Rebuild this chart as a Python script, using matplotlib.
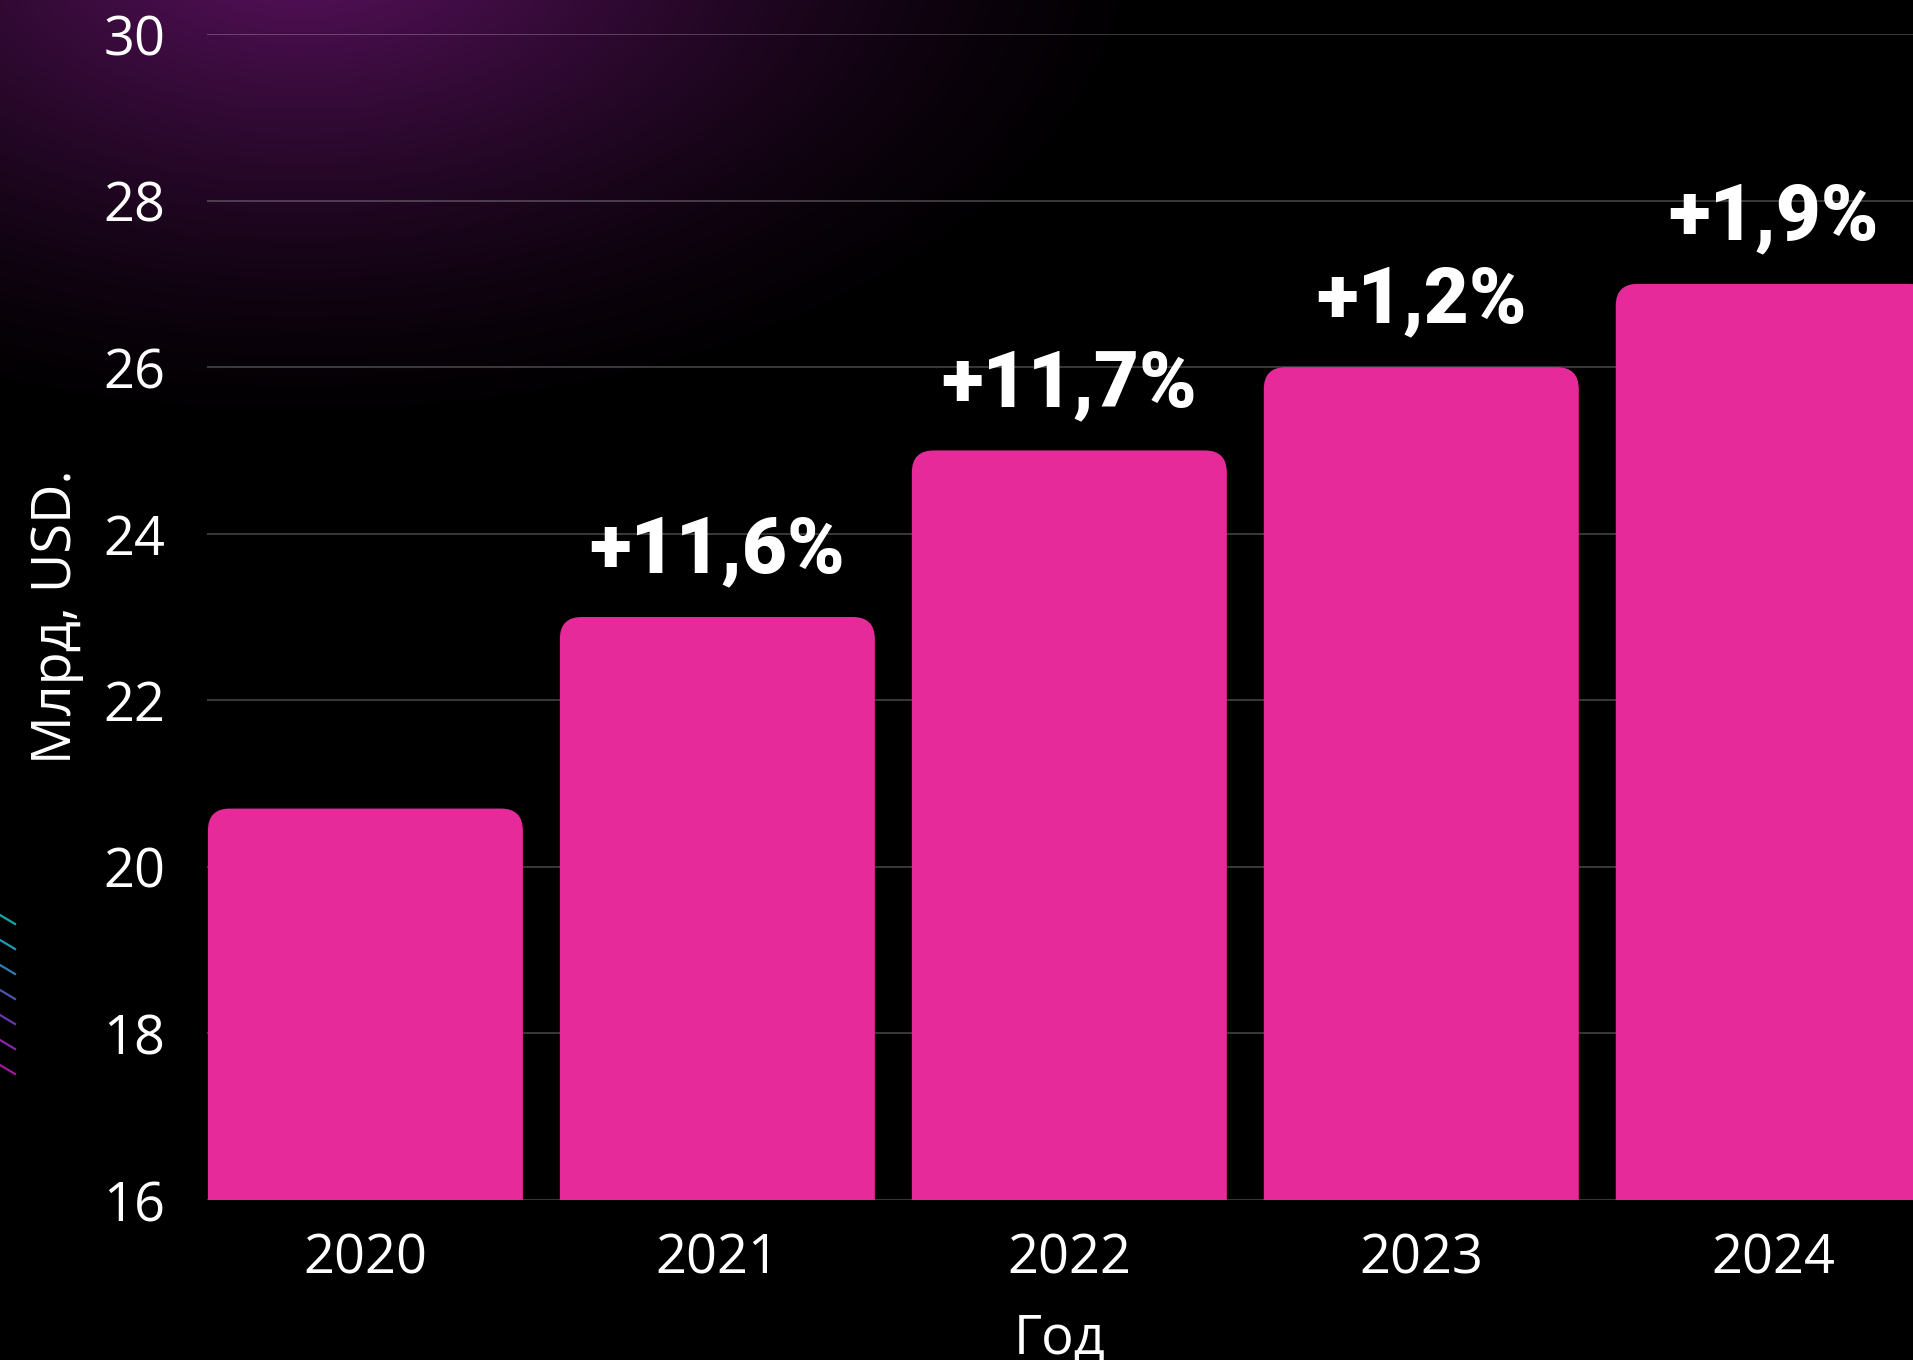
import numpy as np
import matplotlib

matplotlib.use("Agg")
import matplotlib.pyplot as plt
from matplotlib.lines import Line2D
from matplotlib.patches import FancyBboxPatch

# market size by year, billions USD
years = ["2020", "2021", "2022", "2023", "2024"]
values = [20.7, 23.0, 25.0, 26.0, 27.0]
growth = [None, 11.6, 11.7, 1.2, 1.9]
y_ticks = [16, 18, 20, 22, 24, 26, 28, 30]

BAR_COLOR = "#E62A99"
TEXT_COLOR = "white"
W, H, DPI = 1913, 1360, 100

plt.rcParams["font.family"] = ["Open Sans", "DejaVu Sans"]

fig = plt.figure(figsize=(W / DPI, H / DPI), dpi=DPI, facecolor="black")

# purple glow in the upper left corner
bg = fig.add_axes([0, 0, 1, 1], zorder=-10)
bg.set_axis_off()
yy, xx = np.mgrid[0:H, 0:W]
d = np.sqrt(((xx - 300) / 880.0) ** 2 + ((yy + 60) / 500.0) ** 2)
glow = np.clip(1 - d, 0, 1) ** 1.4
rgb = np.zeros((H, W, 3))
rgb[..., 0] = 0.36 * glow
rgb[..., 1] = 0.07 * glow
rgb[..., 2] = 0.38 * glow
bg.imshow(rgb, extent=[0, 1, 0, 1], aspect="auto", interpolation="bilinear")

# small diagonal strokes on the left edge
stroke_colors = ["#16a9a6", "#1d9bb0", "#2f7cb4", "#4b56ad", "#6a36ad", "#8827a8", "#a3179f"]
for i, c in enumerate(stroke_colors):
    y0 = 915 + i * 25
    fig.add_artist(Line2D([0, 15 / W], [1 - y0 / H, 1 - (y0 + 9) / H],
                          color=c, lw=1.6, transform=fig.transFigure))

ax = fig.add_axes([207 / W, 1 - 1200 / H, 1 - 207 / W, (1200 - 34) / H])
ax.set_facecolor("none")
x = np.arange(len(years))
ax.set_xlim(-0.45, 4.397)
ax.set_ylim(16, 30)

# bars with rounded top corners; the bottom is pushed below the axis and clipped
bar_w = 0.895
px_x = 352.0
px_y = (1200 - 34) / 14.0
r = 22 / px_x
for xi, v in zip(x, values):
    p = FancyBboxPatch((xi - bar_w / 2, 14), bar_w, v - 14,
                       boxstyle=f"round,pad=0,rounding_size={r}",
                       mutation_aspect=px_x / px_y,
                       facecolor=BAR_COLOR, edgecolor="none", zorder=3)
    ax.add_patch(p)

for xi, v, g in zip(x, values, growth):
    if g is None:
        continue
    ax.annotate(f"+{g:.1f}%".replace(".", ","), (xi, v), xytext=(0, 32),
                textcoords="offset points", ha="center", va="baseline",
                fontsize=56, fontweight=900, family=["Roboto", "DejaVu Sans"],
                color=TEXT_COLOR, zorder=4)

ax.set_yticks(y_ticks)
ax.set_xticks(x)
ax.set_xticklabels(years)
ax.tick_params(axis="both", length=0, labelsize=39, labelcolor=TEXT_COLOR)
ax.tick_params(axis="y", pad=30)
ax.tick_params(axis="x", pad=23)
ax.grid(axis="y", color="white", alpha=0.22, lw=1.5, zorder=0)
ax.set_axisbelow(True)
for s in ax.spines.values():
    s.set_visible(False)

ax.set_ylabel("Млрд, USD.", fontsize=39, color=TEXT_COLOR, labelpad=14)
ax.set_xlabel("Год", fontsize=39, color=TEXT_COLOR, labelpad=18)

fig.savefig("out.png", dpi=DPI, facecolor="black")
